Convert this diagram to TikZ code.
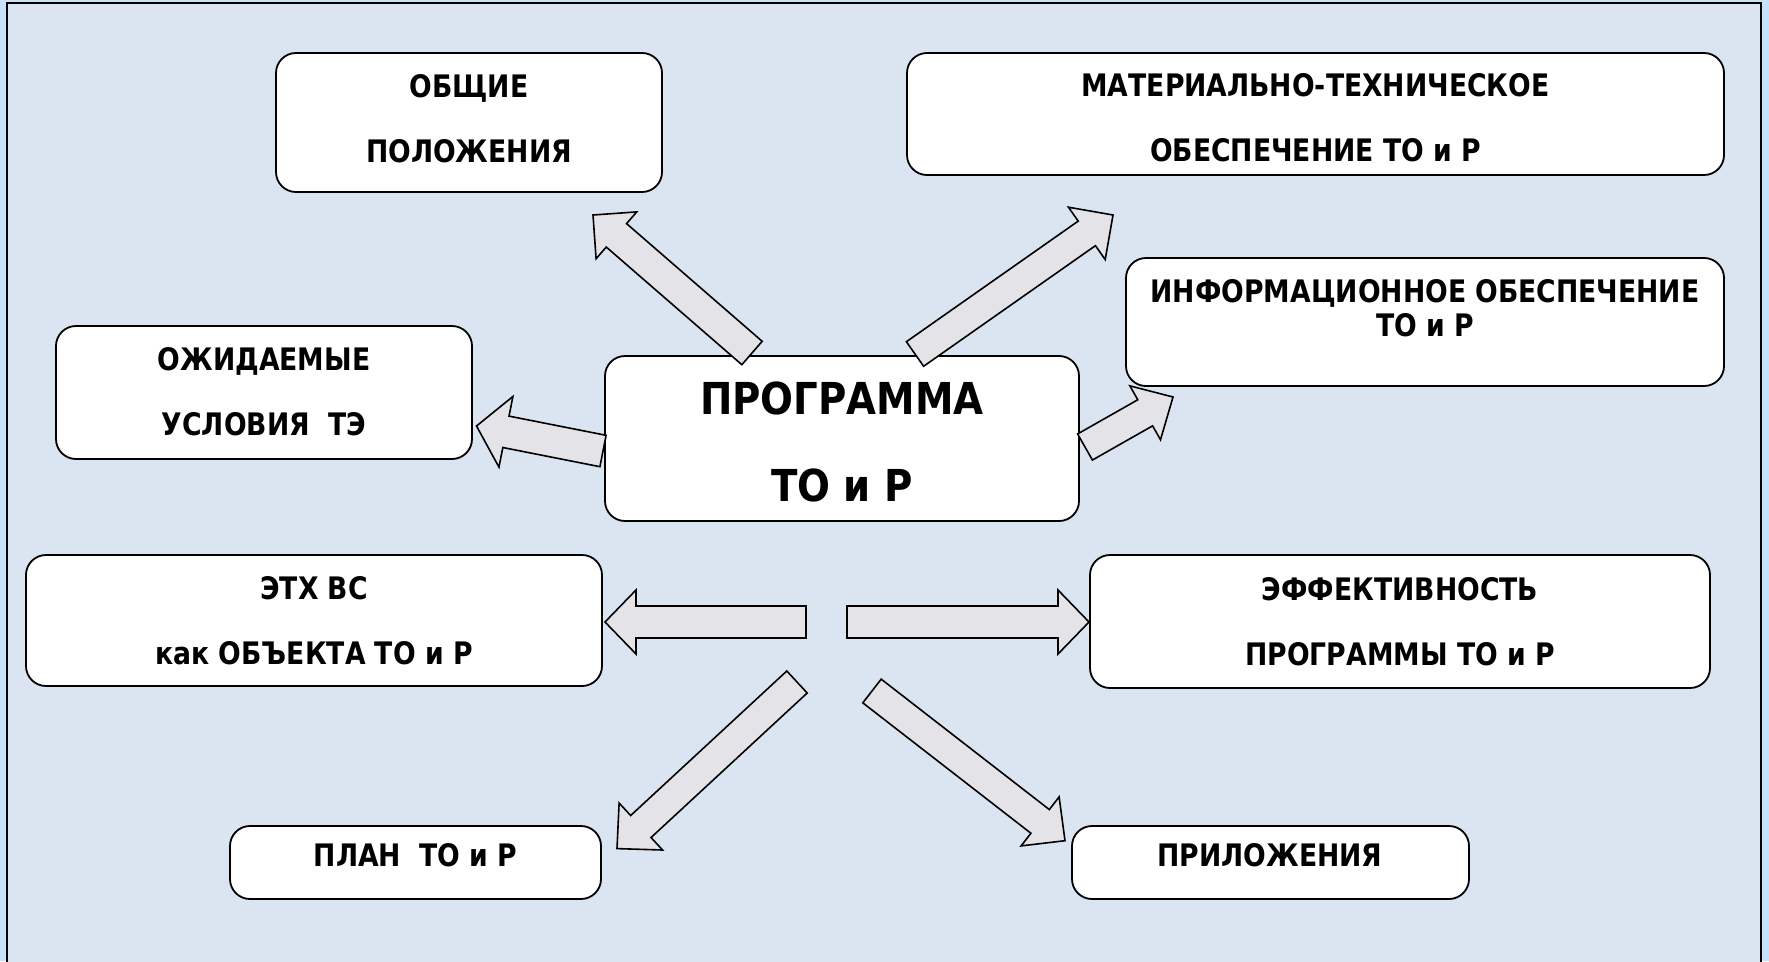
\documentclass[tikz,border=0pt]{standalone}
\usepackage{fontspec}
\setmainfont{DejaVu Sans}[FakeStretch=0.86]
\newfontfamily\bigfont{DejaVu Sans}[FakeStretch=0.88]
\usetikzlibrary{calc}
\definecolor{outerbg}{RGB}{197,226,250}
\definecolor{innerbg}{RGB}{219,229,241}
\definecolor{marble}{RGB}{228,228,232}
\tikzset{
  box/.style={draw=black, line width=1.8pt, fill=white, rounded corners=20pt, inner sep=0pt},
  lbl/.style={align=center, inner sep=0pt, font=\bfseries\fontsize{31}{65}\selectfont},
  barr/.style={draw=black, line width=1.6pt, line join=miter, fill=marble},
}
% block arrow: tail, tip, shaft half width, head half width, head length
\newcommand\blockarr[5]{%
  \coordinate (hb) at ($(#2)!#5!(#1)$);
  \draw[barr] ($(#1)!#3!90:(#2)$) -- ($(hb)!#3!90:(#2)$) -- ($(hb)!#4!90:(#2)$)
     -- (#2) -- ($(hb)!#4!-90:(#2)$) -- ($(hb)!#3!-90:(#2)$) -- ($(#1)!#3!-90:(#2)$) -- cycle;
}
\begin{document}
\begin{tikzpicture}[x=1pt,y=-1pt]
\useasboundingbox (0,0) rectangle (1769,961);
\fill[outerbg] (0,0) rectangle (1769,961);
\fill[innerbg] (7,3) rectangle (1761,975);
\draw[line width=2.5pt] (7,975) -- (7,3) -- (1761,3) -- (1761,975);

% boxes
\node[box, minimum width=386, minimum height=139] (obsh) at (469,122.5) {};
\node[box, minimum width=817, minimum height=122] (mat) at (1315.5,114) {};
\node[box, minimum width=598, minimum height=128] (inf) at (1425,322) {};
\node[box, minimum width=416, minimum height=133] (ozh) at (264,392.5) {};
\node[box, minimum width=474, minimum height=165] (prog) at (842,438.5) {};
\node[box, minimum width=576, minimum height=131] (eth) at (314,620.5) {};
\node[box, minimum width=620, minimum height=133] (eff) at (1400,621.5) {};
\node[box, minimum width=371, minimum height=73] (plan) at (415.5,862.5) {};
\node[box, minimum width=397, minimum height=73] (pril) at (1270.5,862.5) {};

% texts
\node[lbl] (obsht) at (469,118.5) {ОБЩИЕ\\ПОЛОЖЕНИЯ};
\node[lbl] (matt) at (1315.5,118) {МАТЕРИАЛЬНО-ТЕХНИЧЕСКОЕ\\ОБЕСПЕЧЕНИЕ ТО и Р};
\node[lbl, font=\bfseries\fontsize{31}{34}\selectfont] (inft) at (1425,308) {ИНФОРМАЦИОННОЕ ОБЕСПЕЧЕНИЕ\\ТО и Р};
\node[lbl] (ozht) at (264,391.5) {ОЖИДАЕМЫЕ\\УСЛОВИЯ\ \ ТЭ};
\node[lbl, font=\bigfont\bfseries\fontsize{44}{87}\selectfont] (progt) at (842,441.5) {ПРОГРАММА\\ТО и Р};
\node[lbl] (etht) at (314,621) {ЭТХ ВС\\как ОБЪЕКТА ТО и Р};
\node[lbl] (efft) at (1400,621.5) {ЭФФЕКТИВНОСТЬ\\ПРОГРАММЫ ТО и Р};
\node[lbl] (plant) at (415.5,855) {ПЛАН\ \ ТО и Р};
\node[lbl] (prilt) at (1270,855) {ПРИЛОЖЕНИЯ};

% arrow end points
\coordinate (a1s) at (752,353);  \coordinate (a1e) at (593,215);
\coordinate (a2s) at (915,354);  \coordinate (a2e) at (1113,215);
\coordinate (a3s) at (603,451);  \coordinate (a3e) at (476.5,426);
\coordinate (a4s) at (1085,447); \coordinate (a4e) at (1173,397);
\coordinate (a5s) at (806,622);  \coordinate (a5e) at (605,622);
\coordinate (a6s) at (847,622);  \coordinate (a6e) at (1089,622);
\coordinate (a7s) at (797,682);  \coordinate (a7e) at (617,848.6);
\coordinate (a8s) at (872,691);  \coordinate (a8e) at (1065,840.7);

\blockarr{a1s}{a1e}{15.5pt}{31pt}{31pt}
\blockarr{a2s}{a2e}{15pt}{32pt}{32pt}
\blockarr{a3s}{a3e}{16pt}{36pt}{30pt}
\blockarr{a4s}{a4e}{15pt}{31pt}{32pt}
\blockarr{a5s}{a5e}{16pt}{32pt}{31pt}
\blockarr{a6s}{a6e}{16pt}{32pt}{31pt}
\blockarr{a7s}{a7e}{15pt}{32pt}{32.5pt}
\blockarr{a8s}{a8e}{15pt}{31pt}{31.5pt}
\end{tikzpicture}
\end{document}
